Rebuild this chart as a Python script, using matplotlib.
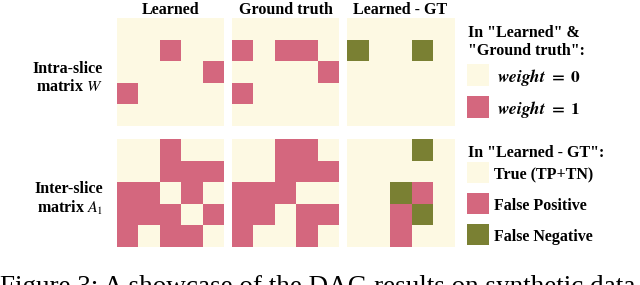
import numpy as np
import matplotlib
import matplotlib.pyplot as plt
from matplotlib.colors import ListedColormap
from matplotlib.patches import Rectangle
matplotlib.use('Agg')

plt.rcParams['font.family'] = 'Liberation Serif'
plt.rcParams['mathtext.fontset'] = 'stix'

cream = '#fdf9e3'
pink = '#d4677e'
olive = '#7a8033'

col_titles = ['Learned', 'Ground truth', 'Learned - GT']
row_labels = ['Intra-slice\nmatrix $W$', 'Inter-slice\nmatrix $A_1$']

# intra-slice W (5x5)
W_learned = [[0, 0, 0, 0, 0],
             [0, 0, 1, 0, 0],
             [0, 0, 0, 0, 1],
             [1, 0, 0, 0, 0],
             [0, 0, 0, 0, 0]]
W_truth = [[0, 0, 0, 0, 0],
           [1, 0, 1, 1, 0],
           [0, 0, 0, 0, 1],
           [1, 0, 0, 0, 0],
           [0, 0, 0, 0, 0]]

# inter-slice A1 (5x5)
A_learned = [[0, 0, 1, 0, 0],
             [0, 0, 1, 1, 1],
             [1, 1, 0, 1, 0],
             [1, 1, 1, 0, 1],
             [1, 0, 1, 1, 0]]
A_truth = [[0, 0, 1, 1, 0],
           [0, 0, 1, 1, 1],
           [1, 1, 1, 0, 0],
           [1, 1, 0, 1, 1],
           [1, 0, 0, 1, 0]]

legend_top = ['In "Learned" &\n"Ground truth":', r'$\boldsymbol{weight}\ \mathbf{=}\ \mathbf{0}$',
              r'$\boldsymbol{weight}\ \mathbf{=}\ \mathbf{1}$']
legend_bot = ['In "Learned - GT":', 'True (TP+TN)', 'False Positive', 'False Negative']

caption = 'Figure 3: A showcase of the DAG results on synthetic data'


def diff(learned, truth):
    l = np.array(learned)
    t = np.array(truth)
    d = np.zeros_like(l)
    d[(l == 1) & (t == 0)] = 1  # false positive
    d[(l == 0) & (t == 1)] = 2  # false negative
    return d


W = 640.0
H = 285.0
fig = plt.figure(figsize=(6.4, 2.85), dpi=100)

cmap = ListedColormap([cream, pink, olive])
lefts = [117, 232, 347]
tops = [18, 139]
size_w, size_h = 107, 108

rows = [(W_learned, W_truth), (A_learned, A_truth)]
for r, (lrn, gt) in enumerate(rows):
    mats = [np.array(lrn), np.array(gt), diff(lrn, gt)]
    for c, m in enumerate(mats):
        ax = fig.add_axes([lefts[c] / W, 1 - (tops[r] + size_h) / H, size_w / W, size_h / H])
        ax.imshow(m, cmap=cmap, vmin=0, vmax=2, interpolation='nearest', aspect='auto')
        ax.set_xticks([])
        ax.set_yticks([])
        for s in ax.spines.values():
            s.set_visible(False)
        if r == 0:
            ax.set_title(col_titles[c], fontsize=11.5, fontweight='bold', pad=2)
    fig.text(103 / W, 1 - (tops[r] + 60) / H, row_labels[r], ha='right', va='center',
             fontsize=11.5, fontweight='bold', linespacing=1.2)

# legend
fig.text(468 / W, 1 - 42 / H, legend_top[0], ha='left', va='center', fontsize=11.5,
         fontweight='bold', linespacing=1.2)
for y, col, txt in [(64, cream, legend_top[1]), (96, pink, legend_top[2])]:
    fig.patches.append(Rectangle((467 / W, 1 - (y + 22) / H), 22 / W, 22 / H,
                                 transform=fig.transFigure, facecolor=col, edgecolor='none'))
    fig.text(497 / W, 1 - (y + 14) / H, txt, ha='left', va='center', fontsize=12.5)

fig.text(468 / W, 1 - 153 / H, legend_bot[0], ha='left', va='center', fontsize=11.5,
         fontweight='bold')
for y, col, txt in [(162, cream, legend_bot[1]), (193, pink, legend_bot[2]),
                    (224, olive, legend_bot[3])]:
    fig.patches.append(Rectangle((467 / W, 1 - (y + 21) / H), 22 / W, 21 / H,
                                 transform=fig.transFigure, facecolor=col, edgecolor='none'))
    fig.text(494 / W, 1 - (y + 13) / H, txt, ha='left', va='center', fontsize=11.5,
             fontweight='bold')

# caption of the source figure, cut off at the bottom edge as in the reference
fig.text(0, 1 - 275 / H, caption, ha='left', va='top', fontsize=19.5)

fig.savefig('out.png', dpi=100)
